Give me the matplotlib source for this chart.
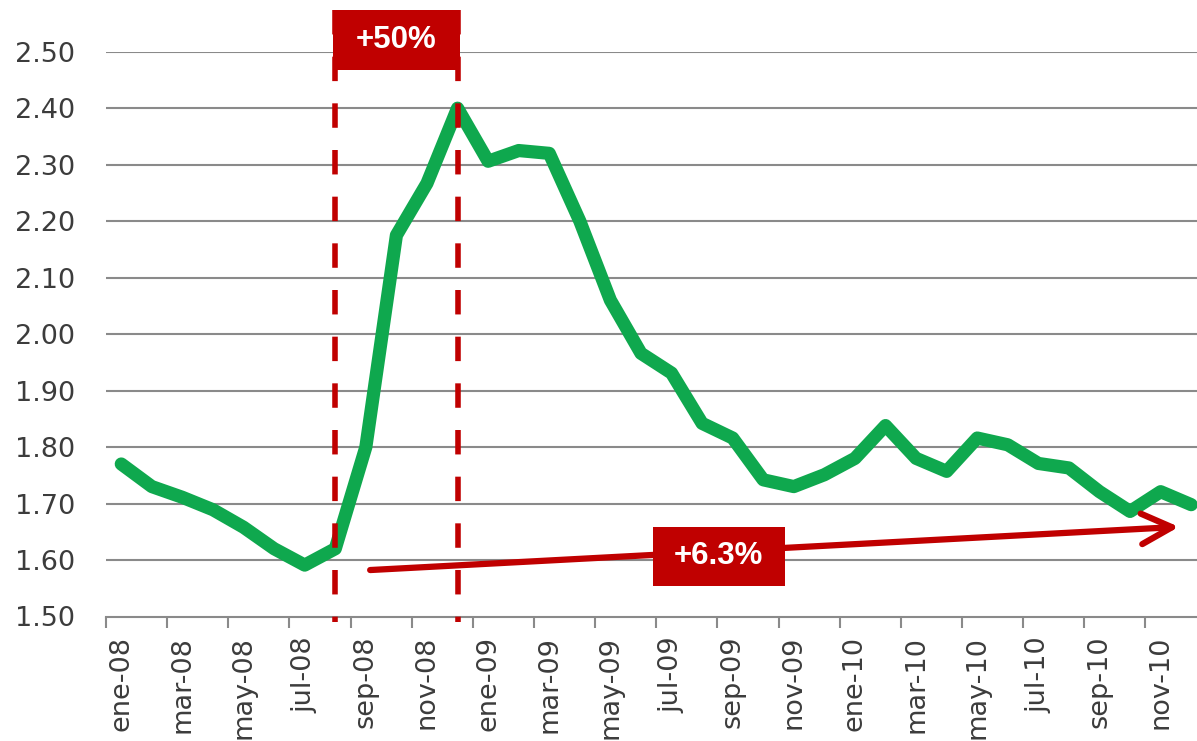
import matplotlib
matplotlib.use('Agg')
import matplotlib.pyplot as plt
from matplotlib.patches import Rectangle, FancyArrowPatch
from matplotlib.ticker import FixedLocator, NullFormatter

# datos mensuales ene-08 .. dic-10
meses = ['ene', 'feb', 'mar', 'abr', 'may', 'jun', 'jul', 'ago', 'sep', 'oct', 'nov', 'dic']
anios = ['08', '09', '10']
fechas = [f'{m}-{a}' for a in anios for m in meses]
valores = [1.77, 1.73, 1.711, 1.689, 1.658, 1.62, 1.591, 1.62, 1.80, 2.175, 2.267, 2.40,
           2.306, 2.325, 2.32, 2.20, 2.06, 1.966, 1.931, 1.842, 1.816, 1.742, 1.73, 1.751,
           1.78, 1.838, 1.78, 1.757, 1.816, 1.804, 1.771, 1.763, 1.721, 1.686, 1.721, 1.698]
y_ticks = [1.5, 1.6, 1.7, 1.8, 1.9, 2.0, 2.1, 2.2, 2.3, 2.4, 2.5]

# anotaciones
mes_ini, mes_fin = 'ago-08', 'dic-08'
texto_subida = '+50%'
flecha_ini = (8.05, 1.582)
flecha_fin = (34.69, 1.659)
texto_flecha = '+6.3%'
caja_flecha = (17.4, 1.554, 4.3, 0.105)   # x, y, ancho, alto

VERDE = '#0FA84E'
ROJO = '#C00000'
GRIS = '#8A8A8A'

x = list(range(len(fechas)))

fig = plt.figure(figsize=(11.97, 7.41), dpi=100)
ax = fig.add_axes([106 / 1197, 124.5 / 741, 1100.5 / 1197, 564.8 / 741])

ax.plot(x, valores, color=VERDE, lw=9.5, solid_joinstyle='round', solid_capstyle='round', zorder=3)

ax.set_xlim(-0.5, len(fechas) - 0.5)
ax.set_ylim(1.5, 2.5)

# rejilla horizontal
for v in y_ticks[1:]:
    ax.axhline(v, color=GRIS, lw=1.5, zorder=1)

for s in ['top', 'right', 'left']:
    ax.spines[s].set_visible(False)
ax.spines['bottom'].set_color(GRIS)
ax.spines['bottom'].set_linewidth(1.5)

ax.set_yticks(y_ticks)
ax.set_yticklabels([f'{v:.2f}' for v in y_ticks])
ax.tick_params(axis='y', length=0, pad=22, labelsize=19.5, labelcolor='#3C3C3C')

# marcas entre categorias, etiquetas cada dos meses
ax.xaxis.set_major_locator(FixedLocator([i - 0.5 for i in range(0, len(fechas) + 1, 2)]))
ax.xaxis.set_major_formatter(NullFormatter())
ax.xaxis.set_minor_locator(FixedLocator(x[::2]))
ax.set_xticklabels(fechas[::2], minor=True, rotation=90)
ax.tick_params(axis='x', which='major', length=7.7, width=1.5, color=GRIS, direction='out')
ax.tick_params(axis='x', which='minor', length=0, pad=14, labelsize=19.5, labelcolor='#3C3C3C')

# lineas verticales discontinuas y caja +50%
i0, i1 = fechas.index(mes_ini), fechas.index(mes_fin)
for i in (i0, i1):
    ax.plot([i, i], [2.573, 1.491], color=ROJO, lw=4.0, ls=(0, (4.4, 4.0)),
            clip_on=False, zorder=4)
ax.add_patch(Rectangle((i0 - 0.08, 2.468), (i1 - i0) + 0.16, 0.105, facecolor=ROJO,
                       edgecolor='none', clip_on=False, zorder=5))
ax.text((i0 + i1) / 2, 2.5205, texto_subida, color='white', fontsize=22.5, fontweight='bold',
        family='Liberation Sans', ha='center', va='center', zorder=6, clip_on=False)

# flecha +6.3%
ax.add_patch(FancyArrowPatch(flecha_ini, flecha_fin, arrowstyle='->,head_length=22,head_width=11',
                             mutation_scale=1, color=ROJO, lw=4.5, zorder=4, clip_on=False))
bx, by, bw, bh = caja_flecha
ax.add_patch(Rectangle((bx, by), bw, bh, facecolor=ROJO, edgecolor='none', zorder=5))
ax.text(bx + bw / 2, by + bh / 2, texto_flecha, color='white', fontsize=22.5, fontweight='bold',
        family='Liberation Sans', ha='center', va='center', zorder=6)

fig.savefig('out.png', dpi=100)
